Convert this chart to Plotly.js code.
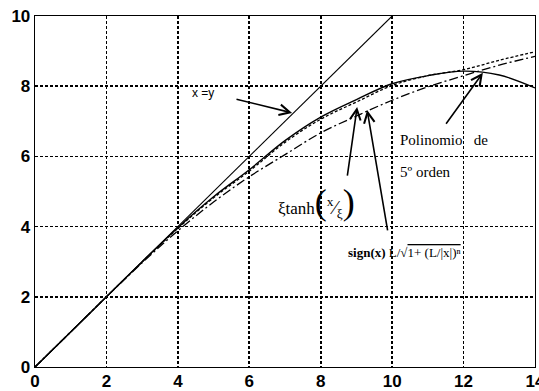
<!DOCTYPE html>
<html><head><meta charset="utf-8">
<script src="https://cdn.plot.ly/plotly-3.0.1.min.js"></script>
<style>html,body{margin:0;padding:0;background:#fff}#c{width:539px;height:391px}</style>
</head><body><div id="c"></div>
<script>
const xs = [0,1,2,3,4,5,6,7,8,9,10,11,12,13,14];
const polinomio = [0,1,2,3,3.97,4.85,5.62,6.45,7.12,7.62,8.07,8.3,8.43,8.32,7.95];
const tanhCurve = [0,1,2,2.99,3.95,4.82,5.58,6.4,7.06,7.55,8.02,8.3,8.47,8.74,8.98];
const signCurve = [0,1,2,2.97,3.88,4.7,5.42,6.05,6.67,7.15,7.6,7.98,8.3,8.6,8.85];
const identX = [0,10];
const identY = [0,10];
const xTicks = [0,2,4,6,8,10,12,14];
const yTicks = [0,2,4,6,8,10];

const blk = '#000';
const traces = [
  {x: identX, y: identY, mode:'lines', line:{color:blk, width:1.1}},
  {x: xs, y: polinomio, mode:'lines', line:{color:blk, width:1.4, shape:'spline'}},
  {x: xs, y: tanhCurve, mode:'lines', line:{color:blk, width:1.3, dash:'3px,2px', shape:'spline'}},
  {x: xs, y: signCurve, mode:'lines', line:{color:blk, width:1.3, dash:'9px,3px,2px,3px', shape:'spline'}}
];

const serif = 'Liberation Serif, Times New Roman, serif';
const arrow = (x, y, ax, ay) => ({x, y, ax, ay, xref:'x', yref:'y', axref:'x', ayref:'y',
  showarrow:true, arrowhead:5, arrowsize:1.3, arrowwidth:1.6, arrowcolor:blk, text:''});
const tf = {family:'Liberation Sans, Arial, sans-serif', size:17, color:blk, weight:'bold'};

const layout = {
  width:539, height:391,
  margin:{l:35, r:4, t:16, b:24},
  paper_bgcolor:'#fff', plot_bgcolor:'#fff',
  showlegend:false,
  xaxis:{range:[0,14], tickvals:xTicks, ticktext:xTicks.map(String),
    showgrid:true, gridcolor:blk, griddash:'3px,2px', gridwidth:1.6,
    zeroline:false, showline:true, linecolor:blk, linewidth:1.3, mirror:true,
    ticks:'', ticklabeloverflow:'allow', ticklabelstandoff:-2, tickfont:tf},
  yaxis:{range:[0,10], tickvals:yTicks, ticktext:yTicks.map(String),
    showgrid:true, gridcolor:blk, griddash:'3px,2px', gridwidth:1.6,
    zeroline:false, showline:true, linecolor:blk, linewidth:1.3, mirror:true,
    ticks:'', ticklabeloverflow:'allow', tickfont:tf},
  annotations:[
    {x:4.7, y:7.8, xref:'x', yref:'y', showarrow:false, text:'x =y',
      font:{family:'Liberation Sans, Arial, sans-serif', size:12, color:blk}},
    arrow(7.2, 7.24, 5.6, 7.64),
    arrow(12.54, 8.38, 11.48, 6.89),
    arrow(9.02, 7.41, 8.74, 5.41),
    arrow(9.3, 7.32, 9.88, 3.85),
    {x:10.16, y:6.47, xref:'x', yref:'y', xanchor:'left', showarrow:false, text:'Polinomio&nbsp;&nbsp; de',
      font:{family:serif, size:15, color:blk}},
    {x:10.16, y:5.56, xref:'x', yref:'y', xanchor:'left', showarrow:false, text:'5º orden',
      font:{family:serif, size:15, color:blk}},
    {x:7.87, y:4.7, xref:'x', yref:'y', showarrow:false,
      text:'ξtanh<span style="font-size:36px">(</span><span style="font-size:19px"><sup>x</sup>⁄<sub>ξ</sub></span><span style="font-size:36px">)</span>',
      font:{family:serif, size:17, color:blk}},
    {x:10.35, y:3.25, xref:'x', yref:'y', showarrow:false,
      text:'<b>sign(x)</b> L/√<span style="text-decoration:overline">1+ (L/|x|)ⁿ</span>',
      font:{family:serif, size:13, color:blk}}
  ]
};
Plotly.newPlot('c', traces, layout, {staticPlot:true});
</script></body></html>
